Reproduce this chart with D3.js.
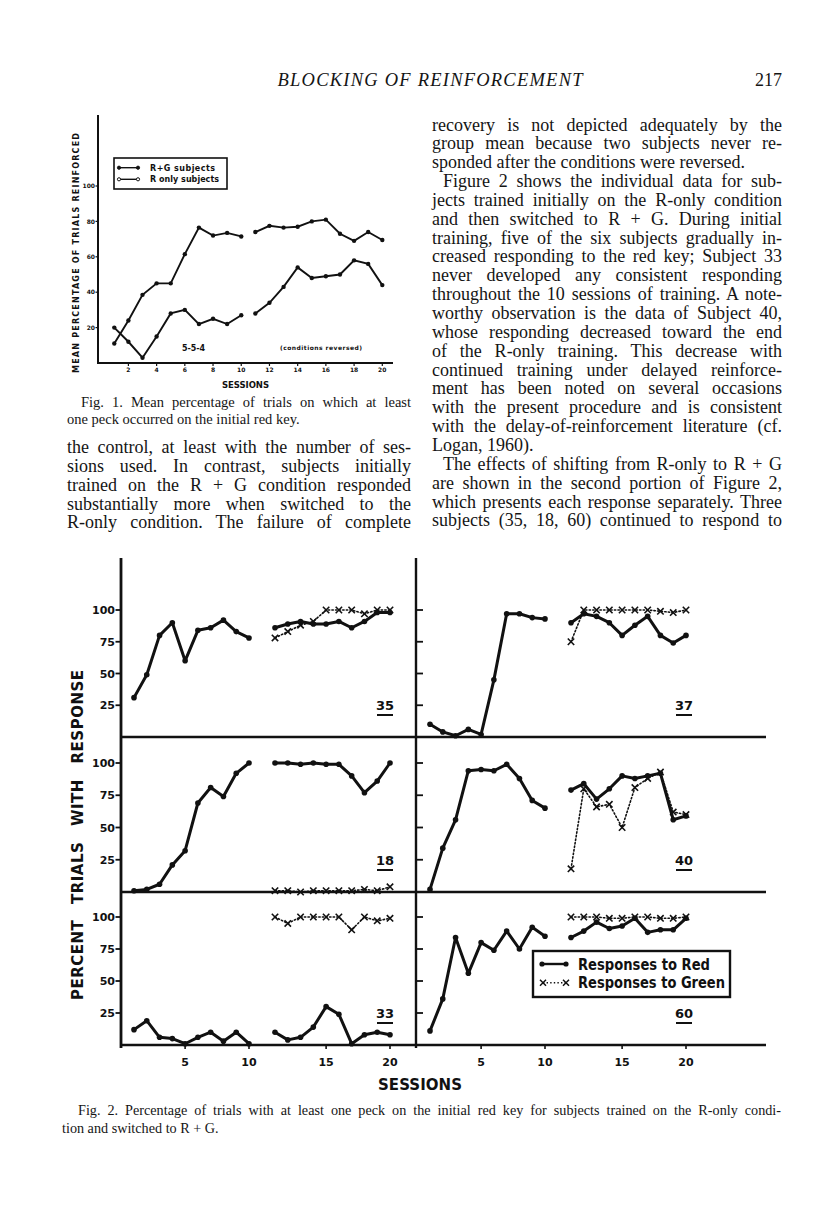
<!DOCTYPE html>
<html lang="en">
<head>
<meta charset="UTF-8">
<title>Blocking of reinforcement, p. 217</title>
<script src="https://d3js.org/d3.v7.min.js"></script>
<style>
  body { margin: 0; background: #fff; }
  svg { display: block; }
  .body-text { font-family: "Liberation Serif", "Times New Roman", serif; font-size: 18px; fill: #151515; }
  .caption { font-family: "Liberation Serif", "Times New Roman", serif; font-size: 14.5px; fill: #151515; }
  .caption2 { font-family: "Liberation Serif", "Times New Roman", serif; font-size: 14.2px; fill: #151515; }
  .fig { font-family: "DejaVu Sans", sans-serif; font-weight: bold; fill: #111; }
</style>
</head>
<body>
<svg id="page" width="816" height="1207"></svg>
<script>
// ---- Fig. 1 data: mean percentage of trials reinforced ----
const sessions = d3.range(1, 21);
const fig1RG    = [20, 12, 3, 15, 28, 30, 22, 25, 22, 27, 28, 34, 43, 54, 48, 49, 50, 58, 56, 44];
const fig1ROnly = [11, 24, 38.5, 45, 45, 61.5, 76.5, 72, 73.5, 71.5, 74, 77.5, 76.5, 77, 80, 81, 73, 69, 74, 69.5];
const fig1XTicks = [2, 4, 6, 8, 10, 12, 14, 16, 18, 20];
const fig1YTicks = [20, 40, 60, 80, 100];

// ---- Fig. 2 data: percent trials with response, per subject ----
const subjects = ["35", "37", "18", "40", "33", "60"];
const greenSessions = d3.range(11, 21);
const red35 = [31, 49, 80, 90, 60, 84, 86, 92, 83, 78, 86, 89, 91, 89, 89, 91, 86, 91, 98, 98];
const green35 = [78, 83, 88, 91, 100, 100, 100, 97, 100, 100];
const red37 = [10, 4, 1, 6, 2, 45, 97, 97, 94, 93, 90, 97, 95, 90, 80, 88, 95, 80, 74, 80];
const green37 = [75, 100, 100, 100, 100, 100, 100, 99, 98, 100];
const red18 = [1, 2, 6, 21, 32, 69, 81, 74, 92, 100, 100, 100, 99, 100, 99, 99, 90, 77, 86, 100];
const green18 = [1, 1, 0, 1, 1, 1, 1, 2, 1, 4];
const red40 = [2, 34, 56, 94, 95, 94, 99, 88, 71, 65, 79, 84, 72, 80, 90, 88, 90, 92, 56, 59];
const green40 = [18, 80, 66, 68, 50, 81, 88, 93, 62, 60];
const red33 = [12, 19, 6, 5, 1, 6, 10, 3, 10, 1, 10, 4, 6, 14, 30, 24, 1, 8, 10, 8];
const green33 = [100, 95, 100, 100, 100, 100, 90, 100, 97, 99];
const red60 = [11, 36, 84, 56, 80, 74, 89, 75, 92, 85, 84, 89, 96, 91, 93, 99, 88, 90, 90, 99];
const green60 = [100, 100, 100, 99, 99, 100, 100, 99, 99, 100];
const fig2XTicks = [5, 10, 15, 20];
const fig2YTicks = [25, 50, 75, 100];

// ---- page text ----
const header = "BLOCKING OF REINFORCEMENT";
const pageNo = "217";
const fig1Caption = [
  "Fig. 1. Mean percentage of trials on which at least",
  "one peck occurred on the initial red key."
];
const leftColumn = [
  "the control, at least with the number of ses-",
  "sions used. In contrast, subjects initially",
  "trained on the R + G condition responded",
  "substantially more when switched to the",
  "R-only condition. The failure of complete"
];
const rightColumn = [
  "recovery is not depicted adequately by the",
  "group mean because two subjects never re-",
  "sponded after the conditions were reversed.",
  "Figure 2 shows the individual data for sub-",
  "jects trained initially on the R-only condition",
  "and then switched to R + G. During initial",
  "training, five of the six subjects gradually in-",
  "creased responding to the red key; Subject 33",
  "never developed any consistent responding",
  "throughout the 10 sessions of training. A note-",
  "worthy observation is the data of Subject 40,",
  "whose responding decreased toward the end",
  "of the R-only training. This decrease with",
  "continued training under delayed reinforce-",
  "ment has been noted on several occasions",
  "with the present procedure and is consistent",
  "with the delay-of-reinforcement literature (cf.",
  "Logan, 1960).",
  "The effects of shifting from R-only to R + G",
  "are shown in the second portion of Figure 2,",
  "which presents each response separately. Three",
  "subjects (35, 18, 60) continued to respond to"
];
const fig2Caption = [
  "Fig. 2. Percentage of trials with at least one peck on the initial red key for subjects trained on the R-only condi-",
  "tion and switched to R + G."
];

const svg = d3.select("#page");
const ink = "#111";

// one line of text, optionally justified by stretching the word gaps
function textLine(cls, str, x, y, width, justify) {
  const t = svg.append("text").attr("class", cls).attr("x", x).attr("y", y).text(str);
  if (justify) {
    const natural = t.node().getComputedTextLength();
    const gaps = (str.match(/ /g) || []).length;
    if (gaps) t.attr("word-spacing", (width - natural) / gaps);
  }
  return t;
}

// ---- running head ----
svg.append("text").attr("class", "body-text")
  .attr("x", 430).attr("y", 86).attr("text-anchor", "middle")
  .style("font-style", "italic").style("font-size", "18.5px")
  .attr("textLength", 305).attr("lengthAdjust", "spacing")
  .text(header);
svg.append("text").attr("class", "body-text")
  .attr("x", 782).attr("y", 86).attr("text-anchor", "end").text(pageNo);

// ---- right column ----
const paraStart = [3, 18], paraEnd = [2, 17];
rightColumn.forEach((s, i) => {
  const indent = paraStart.includes(i) ? 11 : 0;
  textLine("body-text", s, 432 + indent, 130.5 + i * 18.85, 350 - indent, !paraEnd.includes(i));
});

// ---- left column ----
fig1Caption.forEach((s, i) => {
  const indent = i === 0 ? 14 : 0;
  textLine("caption", s, 67 + indent, 406.5 + i * 17.7, 344 - indent, i === 0);
});
leftColumn.forEach((s, i) => {
  textLine("body-text", s, 67, 453 + i * 18.85, 344, true);
});

// ================= Fig. 1 =================
const x1 = d3.scaleLinear().domain([1, 20]).range([114.3, 382.3]);
const y1 = d3.scaleLinear().domain([0, 100]).range([363, 186]);
const f1 = svg.append("g");

f1.append("line").attr("x1", 98).attr("x2", 98).attr("y1", 115).attr("y2", 364)
  .attr("stroke", ink).attr("stroke-width", 2);
f1.append("line").attr("x1", 97).attr("x2", 393).attr("y1", 363).attr("y2", 363)
  .attr("stroke", ink).attr("stroke-width", 2);

f1.selectAll(".yt").data(fig1YTicks).enter().append("line")
  .attr("x1", 95.5).attr("x2", 98).attr("y1", d => y1(d)).attr("y2", d => y1(d))
  .attr("stroke", ink).attr("stroke-width", 1.2);
f1.selectAll(".yl").data(fig1YTicks).enter().append("text").attr("class", "fig")
  .attr("x", 95).attr("y", d => y1(d) + 2.2).attr("text-anchor", "end")
  .style("font-size", "6px").text(d => d);
f1.selectAll(".xt").data(fig1XTicks).enter().append("line")
  .attr("x1", d => x1(d)).attr("x2", d => x1(d)).attr("y1", 363).attr("y2", 366)
  .attr("stroke", ink).attr("stroke-width", 1.2);
f1.selectAll(".xl").data(fig1XTicks).enter().append("text").attr("class", "fig")
  .attr("x", d => x1(d)).attr("y", 371.5).attr("text-anchor", "middle")
  .style("font-size", "6px").text(d => d);

const line1 = d3.line().x(d => x1(d.s)).y(d => y1(d.v));
[fig1RG, fig1ROnly].forEach(vals => {
  const pts = sessions.map((s, i) => ({ s, v: vals[i] }));
  [pts.slice(0, 10), pts.slice(10)].forEach(seg => {
    f1.append("path").datum(seg).attr("d", line1)
      .attr("fill", "none").attr("stroke", ink).attr("stroke-width", 1.9);
  });
  f1.selectAll(null).data(pts).enter().append("circle")
    .attr("cx", d => x1(d.s)).attr("cy", d => y1(d.v)).attr("r", 2.2).attr("fill", ink);
});

// legend
f1.append("rect").attr("x", 114).attr("y", 158).attr("width", 113).attr("height", 31)
  .attr("fill", "none").attr("stroke", ink).attr("stroke-width", 1.6);
[["R+G subjects", 167.7, true, 65], ["R only subjects", 179.3, false, 69]].forEach(([lab, ly, filled, w]) => {
  f1.append("line").attr("x1", 119).attr("x2", 138).attr("y1", ly).attr("y2", ly)
    .attr("stroke", ink).attr("stroke-width", 1.4);
  [119, 138].forEach(cx => f1.append("circle").attr("cx", cx).attr("cy", ly).attr("r", 1.6)
    .attr("fill", filled ? ink : "#fff").attr("stroke", ink).attr("stroke-width", 1));
  f1.append("text").attr("class", "fig").attr("x", 150).attr("y", ly + 2.8)
    .style("font-size", "8px").attr("textLength", w).attr("lengthAdjust", "spacing").text(lab);
});

f1.append("text").attr("class", "fig").attr("transform", "translate(78.5,253) rotate(-90)")
  .attr("text-anchor", "middle").style("font-size", "8px")
  .attr("textLength", 240).attr("lengthAdjust", "spacing")
  .text("MEAN PERCENTAGE OF TRIALS REINFORCED");
f1.append("text").attr("class", "fig").attr("x", 245.5).attr("y", 387.7).attr("text-anchor", "middle")
  .style("font-size", "8.5px").attr("textLength", 47).attr("lengthAdjust", "spacing").text("SESSIONS");
f1.append("text").attr("class", "fig").attr("x", 182).attr("y", 350.7)
  .style("font-size", "8px").attr("textLength", 23).attr("lengthAdjust", "spacing").text("5-5-4");
f1.append("text").attr("class", "fig").attr("x", 280).attr("y", 350)
  .style("font-size", "6px").attr("textLength", 82).attr("lengthAdjust", "spacing").text("(conditions reversed)");

// ================= Fig. 2 =================
const f2 = svg.append("g");
const xa = d3.scaleLinear().domain([1, 10]).range([134, 249]);
const xb = d3.scaleLinear().domain([11, 20]).range([275, 390]);
const colOffset = [0, 296];
const rowBase = [[737, 610], [892, 763], [1045, 917]];
const reds = [red35, red37, red18, red40, red33, red60];
const greens = [green35, green37, green18, green40, green33, green60];

// frame
f2.append("line").attr("x1", 121).attr("x2", 121).attr("y1", 558).attr("y2", 1048)
  .attr("stroke", ink).attr("stroke-width", 2.8);
f2.append("line").attr("x1", 416).attr("x2", 416).attr("y1", 558).attr("y2", 1048)
  .attr("stroke", ink).attr("stroke-width", 2.4);
rowBase.forEach(([b]) => {
  f2.append("line").attr("x1", 120).attr("x2", 766).attr("y1", b).attr("y2", b)
    .attr("stroke", ink).attr("stroke-width", 2.6);
});

subjects.forEach((id, k) => {
  const row = Math.floor(k / 2), col = k % 2;
  const off = colOffset[col];
  const [b, t] = rowBase[row];
  const y = d3.scaleLinear().domain([0, 100]).range([b, t]);
  const xs = s => (s <= 10 ? xa(s) : xb(s)) + off;
  const g = f2.append("g");

  // y ticks
  const axX = col === 0 ? 121 : 416;
  g.selectAll(null).data(fig2YTicks).enter().append("line")
    .attr("x1", col === 0 ? axX - 5.5 : axX).attr("x2", col === 0 ? axX : axX + 7)
    .attr("y1", d => y(d)).attr("y2", d => y(d)).attr("stroke", ink).attr("stroke-width", 1.8);
  if (col === 0) {
    g.selectAll(null).data(fig2YTicks).enter().append("text").attr("class", "fig")
      .attr("x", 115).attr("y", d => y(d) + 4).attr("text-anchor", "end")
      .style("font-size", "11px").text(d => d);
  }

  const redPts = sessions.map((s, i) => ({ s, v: reds[k][i] }));
  const greenPts = greenSessions.map((s, i) => ({ s, v: greens[k][i] }));
  const ln = d3.line().x(d => xs(d.s)).y(d => y(d.v));

  g.append("path").datum(greenPts).attr("d", ln).attr("fill", "none")
    .attr("stroke", ink).attr("stroke-width", 1.6).attr("stroke-dasharray", "1.4,2.2")
    .attr("stroke-linecap", "round");
  g.selectAll(null).data(greenPts).enter().append("path")
    .attr("d", d => { const cx = xs(d.s), cy = y(d.v), h = 3.2;
      return `M${cx - h},${cy - h}L${cx + h},${cy + h}M${cx - h},${cy + h}L${cx + h},${cy - h}`; })
    .attr("stroke", ink).attr("stroke-width", 1.6);

  [redPts.slice(0, 10), redPts.slice(10)].forEach(seg => {
    g.append("path").datum(seg).attr("d", ln).attr("fill", "none")
      .attr("stroke", ink).attr("stroke-width", 3).attr("stroke-linejoin", "round");
  });
  g.selectAll(null).data(redPts).enter().append("circle")
    .attr("cx", d => xs(d.s)).attr("cy", d => y(d.v)).attr("r", 2.8).attr("fill", ink);

  // subject number, underlined
  const lx = col === 0 ? 385 : 684;
  g.append("text").attr("class", "fig").attr("x", lx).attr("y", b - 27.5)
    .attr("text-anchor", "middle").style("font-size", "13px").text(id);
  g.append("line").attr("x1", lx - 8).attr("x2", lx + 8).attr("y1", b - 22).attr("y2", b - 22)
    .attr("stroke", ink).attr("stroke-width", 2);

  // session labels under the bottom row
  if (row === 2) {
    g.selectAll(null).data(fig2XTicks).enter().append("line")
      .attr("x1", d => xs(d)).attr("x2", d => xs(d)).attr("y1", b).attr("y2", b + 4)
      .attr("stroke", ink).attr("stroke-width", 1.6);
    g.selectAll(null).data(fig2XTicks).enter().append("text").attr("class", "fig")
      .attr("x", d => xs(d)).attr("y", 1065.5).attr("text-anchor", "middle")
      .style("font-size", "11px").text(d => d);
  }
});

// legend
f2.append("rect").attr("x", 533).attr("y", 951).attr("width", 197).attr("height", 46)
  .attr("fill", "#fff").attr("stroke", ink).attr("stroke-width", 2.4);
f2.append("line").attr("x1", 542).attr("x2", 566).attr("y1", 964).attr("y2", 964)
  .attr("stroke", ink).attr("stroke-width", 2.4);
[542, 566].forEach(cx => f2.append("circle").attr("cx", cx).attr("cy", 964).attr("r", 2.6).attr("fill", ink));
f2.append("line").attr("x1", 543).attr("x2", 566).attr("y1", 982.7).attr("y2", 982.7)
  .attr("stroke", ink).attr("stroke-width", 1.5).attr("stroke-dasharray", "1.4,2.2");
[543, 566].forEach(cx => f2.append("path")
  .attr("d", `M${cx - 3},${979.7}L${cx + 3},${985.7}M${cx - 3},${985.7}L${cx + 3},${979.7}`)
  .attr("stroke", ink).attr("stroke-width", 1.5));
f2.append("text").attr("class", "fig").attr("x", 578).attr("y", 969.5).style("font-size", "15.5px")
  .attr("textLength", 132).attr("lengthAdjust", "spacingAndGlyphs").text("Responses to Red");
f2.append("text").attr("class", "fig").attr("x", 578).attr("y", 988.3).style("font-size", "15.5px")
  .attr("textLength", 147).attr("lengthAdjust", "spacingAndGlyphs").text("Responses to Green");

f2.append("text").attr("class", "fig").attr("transform", "translate(83,835) rotate(-90)")
  .attr("text-anchor", "middle").style("font-size", "15px").attr("word-spacing", 10)
  .attr("textLength", 330).attr("lengthAdjust", "spacing").text("PERCENT TRIALS WITH RESPONSE");
f2.append("text").attr("class", "fig").attr("x", 420).attr("y", 1090).attr("text-anchor", "middle")
  .style("font-size", "15px").attr("textLength", 84).attr("lengthAdjust", "spacing").text("SESSIONS");

// ---- Fig. 2 caption ----
fig2Caption.forEach((s, i) => {
  const indent = i === 0 ? 16 : 0;
  textLine("caption2", s, 62 + indent, 1114.5 + i * 18.5, 719 - indent, i === 0);
});
</script>
</body>
</html>
